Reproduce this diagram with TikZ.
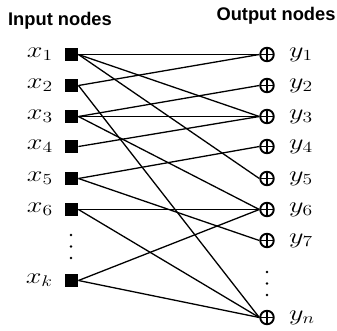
\documentclass[tikz,border=0pt]{standalone}
\usepackage{fontspec}
\usepackage{graphicx}
\newfontfamily\hdrfont{Liberation Sans}
\tikzset{
  inbox/.style={rectangle, fill=black, minimum size=13.5pt, inner sep=0pt},
  outsum/.style={circle, draw=black, line width=1.9pt, minimum size=13.5pt, inner sep=0pt,
    path picture={\draw[line width=1.7pt]
      (path picture bounding box.north) -- (path picture bounding box.south)
      (path picture bounding box.west) -- (path picture bounding box.east);}},
  lbl/.style={inner sep=0pt, font=\fontsize{20.74}{21}\selectfont},
  hdr/.style={inner sep=0pt, font=\hdrfont\bfseries\fontsize{18.3}{18.3}\selectfont},
  edge/.style={line width=1.3pt, black},
  vdot/.style={fill=black},
}
\newcommand{\wlab}[1]{\scalebox{1.36}[1.07]{$#1$}}
\begin{document}
\begin{tikzpicture}[x=1pt,y=-1pt]
\useasboundingbox (0,0) rectangle (337,330);
% headers
\node[hdr, anchor=base] (hin) at (60,25) {Input nodes};
\node[hdr, anchor=base] (hout) at (276,20) {Output nodes};
% input nodes
\foreach \n/\yy/\t in {1/54.5/x_1, 2/85.5/x_2, 3/116.5/x_3, 4/146.5/x_4, 5/178.5/x_5, 6/209.5/x_6, k/280.5/x_k}{
  \node[inbox] (x\n) at (71.5,\yy) {};
  \node[lbl, anchor=base east] (lx\n) at (53,\yy+3) {\wlab{\t}};
}
% output nodes
\foreach \n/\yy/\t in {1/54.5/y_1, 2/85.5/y_2, 3/116.5/y_3, 4/146.5/y_4, 5/178.5/y_5, 6/209.5/y_6, 7/240.5/y_7, n/317.5/y_n}{
  \node[outsum] (y\n) at (267,\yy) {};
  \node[lbl, anchor=base west] (ly\n) at (289,\yy+3) {\wlab{\t}};
}
% vertical dots
\foreach \yy in {235,246.5,258}{ \fill[vdot] (71,\yy) circle (1.4); }
\foreach \yy in {272,283.5,295}{ \fill[vdot] (267,\yy) circle (1.4); }
% connectors
\foreach \a/\b in {1/1, 1/3, 1/5, 2/1, 2/n, 3/2, 3/3, 3/6, 4/3, 5/4, 5/7, 6/6, 6/n, k/6, k/n}{
  \draw[edge] (x\a.east) -- (y\b.west);
}
\end{tikzpicture}
\end{document}
